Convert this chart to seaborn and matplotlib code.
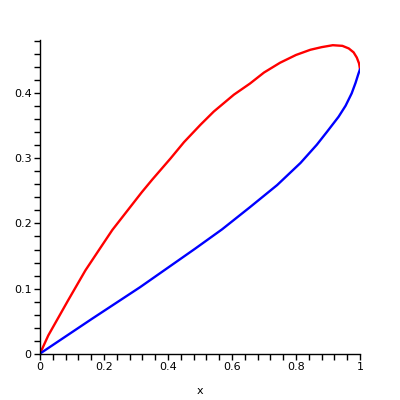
import matplotlib
matplotlib.use("Agg")
import matplotlib.pyplot as plt
import matplotlib.ticker as mticker
import pandas as pd
import seaborn as sns

# Values
red_x = [0, 0.026, 0.088, 0.142, 0.188, 0.226, 0.272, 0.318, 0.35, 0.408, 0.45,
         0.502, 0.543, 0.606, 0.656, 0.70, 0.75, 0.80, 0.845, 0.88, 0.915,
         0.945, 0.965, 0.98, 0.99, 0.997, 1.0]
red_y = [0, 0.028, 0.082, 0.128, 0.162, 0.19, 0.219, 0.248, 0.267, 0.300, 0.325,
         0.352, 0.372, 0.398, 0.415, 0.432, 0.447, 0.459, 0.467, 0.471, 0.474,
         0.473, 0.469, 0.463, 0.455, 0.446, 0.437]

blue_x = [0, 0.161, 0.3125, 0.484, 0.569, 0.656, 0.741, 0.814, 0.865, 0.897,
          0.933, 0.955, 0.974, 0.986, 0.995, 1.0]
blue_y = [0, 0.053, 0.102, 0.161, 0.191, 0.225, 0.259, 0.293, 0.321, 0.341,
          0.364, 0.381, 0.40, 0.416, 0.43, 0.437]

red = pd.DataFrame({"x": red_x, "y": red_y})
blue = pd.DataFrame({"x": blue_x, "y": blue_y})

sns.set_style("ticks")
plt.rcParams["font.family"] = ["DejaVu Sans"]

fig = plt.figure(figsize=(4, 4), dpi=100)
ax = fig.add_axes([0.1, 0.116, 0.8, 0.784])

sns.lineplot(data=red, x="x", y="y", sort=False, color="#ff0000", lw=1.7, ax=ax)
sns.lineplot(data=blue, x="x", y="y", sort=False, color="#0000ff", lw=1.7, ax=ax)

ax.set_xlim(0, 1)
ax.set_ylim(0, 0.482)
sns.despine(ax=ax)
for s in ["left", "bottom"]:
    ax.spines[s].set_linewidth(1.0)
    ax.spines[s].set_color("black")

fmt = mticker.FuncFormatter(lambda v, p: "%g" % round(v, 2))
ax.xaxis.set_major_locator(mticker.MultipleLocator(0.2))
ax.xaxis.set_minor_locator(mticker.MultipleLocator(0.04))
ax.yaxis.set_major_locator(mticker.MultipleLocator(0.1))
ax.yaxis.set_minor_locator(mticker.MultipleLocator(0.02))
ax.xaxis.set_major_formatter(fmt)
ax.yaxis.set_major_formatter(fmt)
ax.tick_params(which="both", direction="out", length=4, width=1, color="black",
               labelcolor="black", labelsize=8, pad=2)

ax.set_xlabel("x", fontsize=8, color="black", labelpad=10)
ax.set_ylabel("")

fig.savefig("out.png", dpi=100)
